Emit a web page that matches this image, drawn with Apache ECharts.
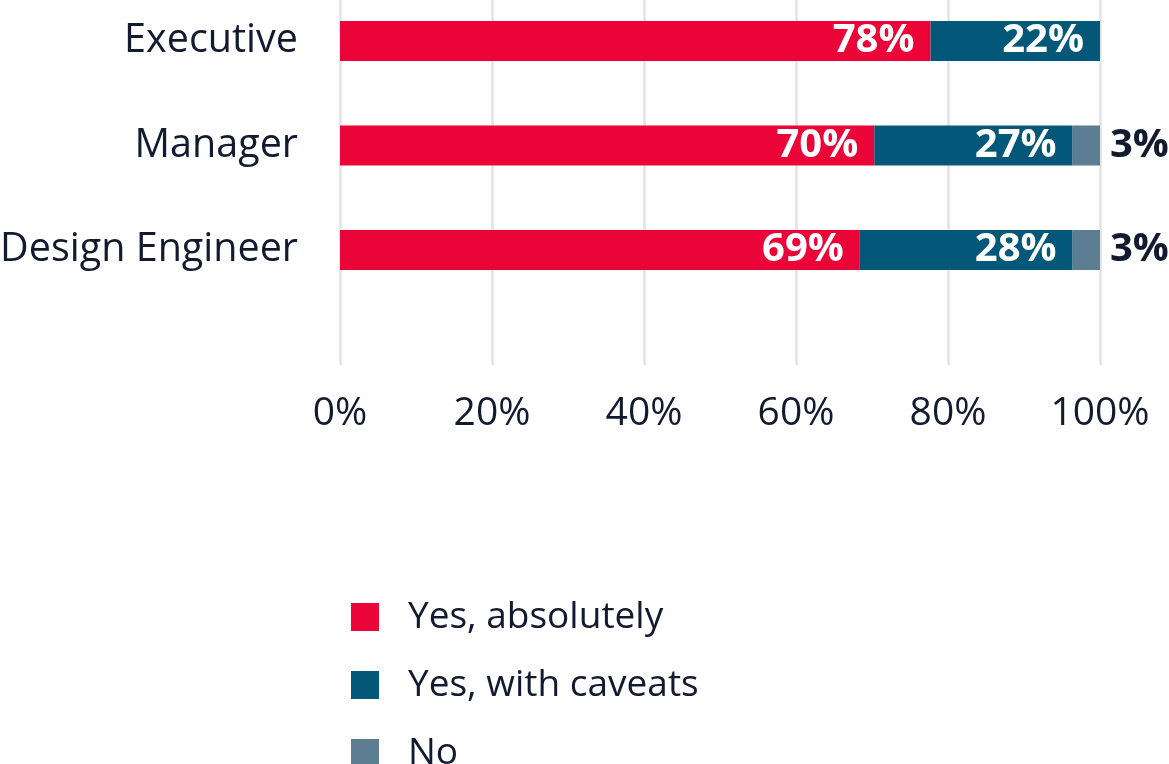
<!DOCTYPE html>
<html>
<head>
    <meta charset="utf-8">
    <title>Stacked bar</title>
    <script src="https://cdn.jsdelivr.net/npm/echarts@6/dist/echarts.min.js"></script>
    <style>
        html, body { margin: 0; padding: 0; background: #ffffff; }
        #chart { width: 1169px; height: 764px; }
    </style>
</head>
<body>
<div id="chart"></div>
<script>
    var categories = ['Executive', 'Manager', 'Design Engineer'];
    var seriesNames = ['Yes, absolutely', 'Yes, with caveats', 'No'];

    // shares
    var yesAbsolutely = [77.7, 70.3, 68.4];
    var yesCaveats = [22.3, 26.1, 28.0];
    var no = [0, 3.6, 3.6];

    // printed labels as shown on the chart
    var labelsAbsolutely = ['78%', '70%', '69%'];
    var labelsCaveats = ['22%', '27%', '28%'];
    var labelsNo = ['', '3%', '3%'];

    var colors = ['#ea0437', '#03587a', '#5d7e92'];
    var textColor = '#111a2e';
    var fontFamily = '"Open Sans", "Noto Sans", sans-serif';

    var chart = echarts.init(document.getElementById('chart'));

    function inside(labels) {
        return {
            show: true,
            position: 'insideRight',
            distance: 16,
            color: '#ffffff',
            fontSize: 40,
            fontWeight: 'bold',
            fontFamily: fontFamily,
            formatter: function (p) { return labels[p.dataIndex]; }
        };
    }

    var option = {
        animation: false,
        backgroundColor: '#ffffff',
        legend: {
            orient: 'vertical',
            left: 346,
            top: 592,
            height: 220,
            itemWidth: 28,
            itemHeight: 28,
            itemGap: 28,
            icon: 'rect',
            selectedMode: false,
            data: seriesNames,
            textStyle: {
                color: textColor,
                fontSize: 37,
                fontFamily: fontFamily,
                lineHeight: 40,
                padding: [0, 0, 0, 24]
            }
        },
        grid: [
            // grid for the vertical gridlines and % labels
            { left: 340, right: 69, top: 0, height: 365, outerBoundsMode: 'none' },
            // grid for the bars
            { left: 340, right: 69, top: -11.25, height: 313.5, outerBoundsMode: 'none' }
        ],
        xAxis: [
            {
                gridIndex: 0,
                type: 'value',
                min: 0,
                max: 100,
                interval: 20,
                axisLine: { show: false },
                axisTick: { show: false },
                splitLine: { lineStyle: { color: '#e2e2e2', width: 2.5 } },
                axisLabel: {
                    formatter: '{value}%',
                    color: textColor,
                    fontSize: 39,
                    fontFamily: fontFamily,
                    margin: 29
                }
            },
            {
                gridIndex: 1,
                type: 'value',
                min: 0,
                max: 100,
                show: false
            }
        ],
        yAxis: [
            {
                gridIndex: 0,
                type: 'category',
                data: categories,
                show: false
            },
            {
                gridIndex: 1,
                type: 'category',
                inverse: true,
                data: categories,
                axisLine: { show: false },
                axisTick: { show: false },
                splitLine: { show: false },
                axisLabel: {
                    color: textColor,
                    fontSize: 39.5,
                    fontFamily: fontFamily,
                    margin: 42
                }
            }
        ],
        series: [
            {
                name: seriesNames[0],
                type: 'bar',
                stack: 'total',
                xAxisIndex: 1,
                yAxisIndex: 1,
                barWidth: 40,
                itemStyle: { color: colors[0] },
                label: inside(labelsAbsolutely),
                data: yesAbsolutely
            },
            {
                name: seriesNames[1],
                type: 'bar',
                stack: 'total',
                xAxisIndex: 1,
                yAxisIndex: 1,
                barWidth: 40,
                itemStyle: { color: colors[1] },
                label: inside(labelsCaveats),
                data: yesCaveats
            },
            {
                name: seriesNames[2],
                type: 'bar',
                stack: 'total',
                xAxisIndex: 1,
                yAxisIndex: 1,
                barWidth: 40,
                itemStyle: { color: colors[2] },
                label: {
                    show: true,
                    position: 'right',
                    distance: 10,
                    color: textColor,
                    fontSize: 40,
                    fontWeight: 'bold',
                    fontFamily: fontFamily,
                    formatter: function (p) { return labelsNo[p.dataIndex]; }
                },
                data: no
            }
        ]
    };

    chart.setOption(option);
</script>
</body>
</html>
